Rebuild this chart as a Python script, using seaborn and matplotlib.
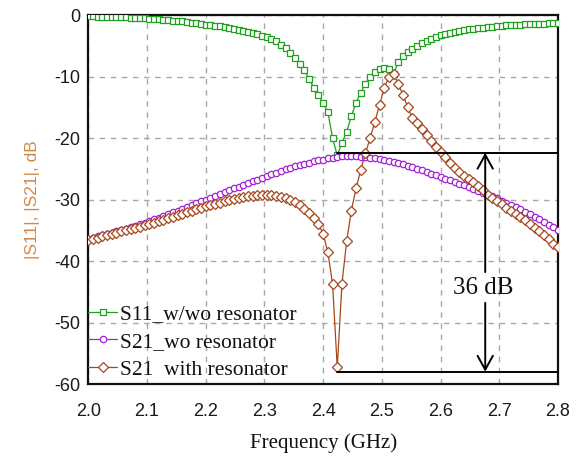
import numpy as np
import pandas as pd
import matplotlib
matplotlib.use("Agg")
import matplotlib.pyplot as plt
import seaborn as sns

# ---------------- data ----------------
freq_start, freq_stop, n_pts = 2.0, 2.8, 101
freq = np.linspace(freq_start, freq_stop, n_pts)

s11 = [-0.2, -0.2, -0.25, -0.25, -0.3, -0.3, -0.35, -0.4, -0.4, -0.45,
       -0.5, -0.5, -0.55, -0.6, -0.65, -0.7, -0.75, -0.8, -0.9, -1.0,
       -1.05, -1.15, -1.25, -1.35, -1.45, -1.55, -1.65, -1.75, -1.85, -1.95,
       -2.1, -2.25, -2.4, -2.55, -2.7, -2.9, -3.1, -3.35, -3.6, -3.9,
       -4.3, -4.8, -5.4, -6.2, -7.0, -7.9, -9.0, -10.4, -11.8, -13.0,
       -14.3, -15.8, -20.0, -22.8, -20.8, -19.0, -16.4, -14.3, -12.6, -11.2,
       -10.0, -9.2, -8.7, -8.6, -8.8, -9.6, -7.6, -6.6, -6.0, -5.5,
       -5.0, -4.5, -4.2, -3.9, -3.6, -3.3, -3.1, -2.9, -2.75, -2.6,
       -2.45, -2.35, -2.25, -2.15, -2.05, -1.95, -1.9, -1.8, -1.75, -1.7,
       -1.65, -1.6, -1.55, -1.5, -1.5, -1.45, -1.4, -1.4, -1.35, -1.35,
       -1.3]

s21_wo = [-36.4, -36.2, -36.0, -35.8, -35.6, -35.4, -35.2, -35.0, -34.8, -34.5,
          -34.3, -34.0, -33.8, -33.5, -33.2, -33.0, -32.7, -32.4, -32.1, -31.8,
          -31.5, -31.2, -30.9, -30.6, -30.3, -30.0, -29.7, -29.4, -29.1, -28.8,
          -28.5, -28.2, -27.9, -27.6, -27.3, -27.0, -26.8, -26.5, -26.2, -25.9,
          -25.7, -25.4, -25.1, -24.9, -24.6, -24.4, -24.2, -24.0, -23.8, -23.6,
          -23.5, -23.3, -23.2, -23.1, -23.0, -23.0, -23.0, -23.0, -23.1, -23.1,
          -23.2, -23.3, -23.4, -23.5, -23.7, -23.9, -24.1, -24.3, -24.5, -24.7,
          -25.0, -25.2, -25.5, -25.8, -26.0, -26.3, -26.6, -26.9, -27.2, -27.5,
          -27.7, -28.0, -28.3, -28.6, -28.9, -29.2, -29.5, -29.8, -30.2, -30.5,
          -30.9, -31.2, -31.6, -32.0, -32.4, -32.8, -33.2, -33.6, -34.1, -34.5,
          -35.0]

s21_with = [-36.6, -36.4, -36.2, -36.0, -35.8, -35.6, -35.4, -35.2, -35.0, -34.8,
            -34.6, -34.4, -34.2, -34.0, -33.8, -33.5, -33.3, -33.0, -32.8, -32.5,
            -32.3, -32.0, -31.8, -31.5, -31.3, -31.1, -30.9, -30.7, -30.5, -30.3,
            -30.1, -29.9, -29.7, -29.6, -29.5, -29.4, -29.3, -29.3, -29.3, -29.3,
            -29.4, -29.6, -29.8, -30.0, -30.4, -30.9, -31.5, -32.2, -33.0, -34.0,
            -35.6, -38.6, -43.7, -57.3, -43.7, -36.8, -31.8, -28.2, -25.2, -22.5,
            -20.0, -17.4, -14.6, -11.9, -10.0, -9.6, -11.2, -13.0, -15.0, -16.8,
            -17.6, -18.6, -19.5, -20.5, -21.5, -22.3, -23.1, -24.0, -24.8, -25.5,
            -26.1, -26.7, -27.2, -27.8, -28.5, -29.2, -29.8, -30.3, -30.8, -31.3,
            -31.8, -32.3, -32.9, -33.4, -34.0, -34.6, -35.1, -35.8, -36.5, -37.2,
            -37.8]

labels = ["S11_w/wo resonator", "S21_wo resonator", "S21  with resonator"]
x_ticks = [2.0, 2.1, 2.2, 2.3, 2.4, 2.5, 2.6, 2.7, 2.8]
x_tick_labels = ["2.0", "2.1", "2.2", "2.3", "2.4", "2.5", "2.6", "2.7", "2.8"]
y_ticks = [0, -10, -20, -30, -40, -50, -60]

# annotation values
f_dip = 2.424
level_top = -22.4
level_bot = -58.0
f_arrow = 2.676
annot_text = "36 dB"

# ---------------- style ----------------
sns.set_theme(style="white")
plt.rcParams["axes.unicode_minus"] = False
plt.rcParams["font.family"] = ["Liberation Sans", "DejaVu Sans"]

c_green = "#1fa01f"
c_purple = "#a321d6"
c_brown = "#a8461a"

fig = plt.figure(figsize=(5.76, 4.62), dpi=100)
ax = fig.add_axes([0.1533, 0.1688, 0.8155, 0.7987])

df = pd.DataFrame({"freq": freq, "s11": s11, "s21_wo": s21_wo, "s21_with": s21_with})

common = dict(ax=ax, estimator=None, sort=False, linewidth=0.9,
              markerfacecolor="white", markeredgewidth=0.9)
sns.lineplot(data=df, x="freq", y="s11", color=c_green, marker="s",
             markersize=5.0, markeredgecolor=c_green, label=labels[0], zorder=3, **common)
sns.lineplot(data=df, x="freq", y="s21_wo", color=c_purple, marker="o",
             markersize=4.6, markeredgecolor=c_purple, label=labels[1], zorder=4, **common)
sns.lineplot(data=df, x="freq", y="s21_with", color=c_brown, marker="D",
             markersize=4.8, markeredgecolor=c_brown, label=labels[2], zorder=5, **common)

ax.set_xlim(freq_start, freq_stop)
ax.set_ylim(-60, 0)
ax.set_xticks(x_ticks)
ax.set_xticklabels(x_tick_labels)
ax.set_yticks(y_ticks)
ax.set_yticklabels([str(v) for v in y_ticks])
ax.tick_params(axis="both", length=0, labelsize=13, colors="#1a1a1a", pad=6)
ax.tick_params(axis="x", pad=14)

ax.grid(True, color="#a8a8a8", linestyle=(0, (4, 4)), linewidth=1.0)
for side in ["left", "bottom", "top", "right"]:
    ax.spines[side].set_visible(True)
    ax.spines[side].set_color("#111111")
    ax.spines[side].set_linewidth(1.6)

ax.set_xlabel("Frequency (GHz)", fontsize=15, family=["Liberation Serif"], color="#111111", labelpad=9)
ax.set_ylabel("|S11|, |S21|, dB", fontsize=12.5, color="#d08a4a", labelpad=10)

# annotation lines and arrows
ax.plot([f_dip, freq_stop], [level_top, level_top], color="black", lw=1.4, zorder=6, clip_on=False)
ax.plot([f_dip, freq_stop], [level_bot, level_bot], color="black", lw=1.4, zorder=6, clip_on=False)
arrow_style = "->,head_length=1.0,head_width=0.55"
ax.annotate("", xy=(f_arrow, level_top), xytext=(f_arrow, -41.8),
            arrowprops=dict(arrowstyle=arrow_style, color="black", lw=1.4,
                            shrinkA=0, shrinkB=0, mutation_scale=10), zorder=6)
ax.annotate("", xy=(f_arrow, level_bot), xytext=(f_arrow, -46.8),
            arrowprops=dict(arrowstyle=arrow_style, color="black", lw=1.4,
                            shrinkA=0, shrinkB=0, mutation_scale=10), zorder=6)
ax.text(f_arrow - 0.004, -44.4, annot_text, ha="center", va="center", fontsize=18,
        family=["Liberation Serif"], color="#111111", zorder=7)

leg = ax.legend(loc="lower left", bbox_to_anchor=(0.0, 0.012), frameon=False,
                borderpad=0, borderaxespad=0, handlelength=1.35, handletextpad=0.1,
                labelspacing=0.35, numpoints=1,
                prop={"family": "Liberation Serif", "size": 15.5})
for t in leg.get_texts():
    t.set_color("#111111")

fig.savefig("out.png", dpi=100)
